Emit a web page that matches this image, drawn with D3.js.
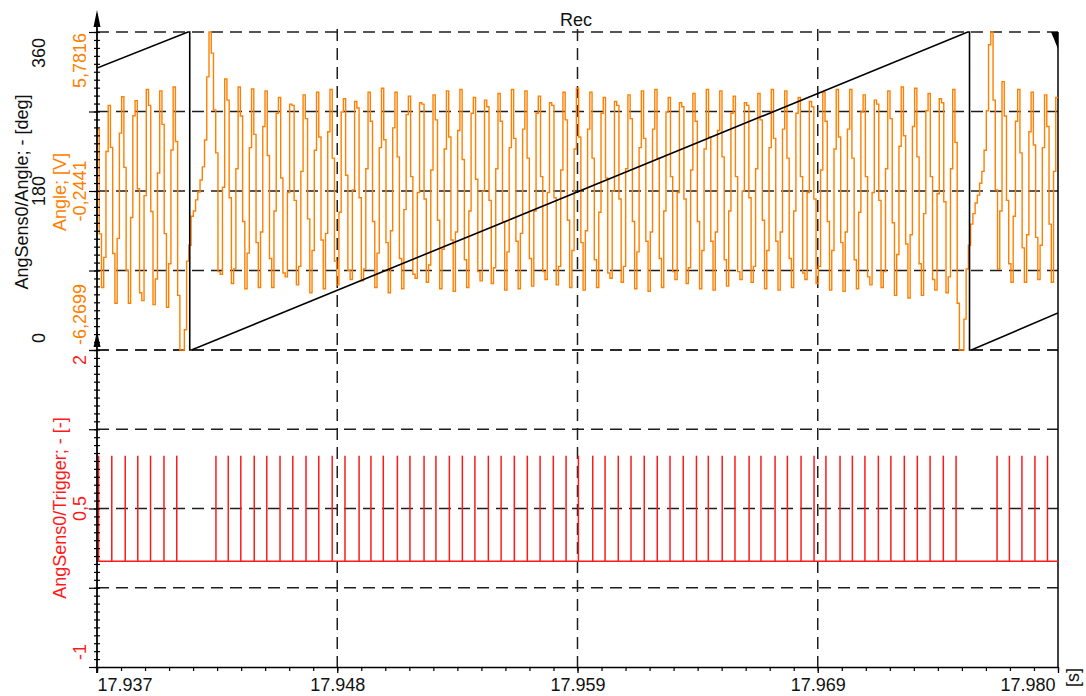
<!DOCTYPE html>
<html>
<head>
<meta charset="utf-8">
<script src="https://cdn.jsdelivr.net/npm/d3@7"></script>
<style>
  html, body { margin: 0; padding: 0; background: #fff; }
  svg { display: block; font-family: "Liberation Sans", Arial, sans-serif; }
</style>
</head>
<body>
<svg id="chart" width="1086" height="696"></svg>
<script>
// ---- time window (s) and its axis labels ----
const timeDomain = [17.9372, 17.9801];
const timeTickLabels = ["17.937", "17.948", "17.959", "17.969", "17.980"];

// ---- AngSens0/Angle: crank angle sawtooth, breakpoints ----
const angleTimes  = [17.93720, 17.94126, 17.94134, 17.94134, 17.94142, 17.97607, 17.97615, 17.97615, 17.97623, 17.98010];
const angleValues = [319.2, 360, 360, 0, 0, 360, 360, 0, 0, 41.9];

// ---- Angle [V]: sensor voltage, sampled every 0.1 ms ----
const sampleStart = 17.9372;
const sampleStep = 0.0001;
const sensorVolts = [
  // before the tooth gap
  2.09, -1.87, -3.9, -2.76, 1.25, 3.0, 1.41, -2.61, -4.5, -2.04,
  1.95, 3.33, 0.65, -3.25, -4.5, -1.25, 2.61, 3.18, -0.16, -4.1,
  -4.4, -0.42, 3.6, 3.0, -1.02, -4.55, -3.58, 0.44, 3.55, 2.28,
  -1.86, -4.65, -3.0, 1.31, 3.7, 1.63,
  // tooth gap
  -4.2, -6.27, -6.27, -5.5, -2.9, -2.3, -1.2, -1.0, -0.58, -0.28,
  0.17, 0.67, 1.69, 4.08, 5.78, 4.98, 2.83,
  // full revolution of regular teeth
  1.2, -3.3, -3.4, -0.1, 4.0, 3.2, -0.5, -3.75, -3.2, 0.6, 3.7, 2.6, -1.4, -3.95, -2.6, 1.4, 3.62, 1.9, -2.2, -3.9, -1.8, 2.2, 3.55, 1.1, -2.8, -3.9, -1.0, 2.7, 3.3,
  0.25, -3.35, -3.5, -0.3, 3.05, 3.0, -0.6, -3.8, -3.1, 0.5, 3.4, 2.5, -1.3, -4.1, -2.5, 1.3, 3.5, 1.8, -2.1, -3.95, -1.85, 2.0, 3.6, 1.0, -2.9, -3.8, -1.05, 2.75, 3.25,
  0.35, -3.25, -3.6, -0.2, 3.15, 2.9, -0.5, -3.65, -3.2, 0.6, 3.5, 2.4, -1.4, -3.9, -2.6, 1.4, 3.65, 1.7, -2.2, -4.1, -1.75, 2.15, 3.5, 1.05, -2.8, -3.95, -0.95, 2.65, 3.35,
  0.3, -3.4, -3.55, -0.3, 3.1, 3.05, -0.55, -3.7, -3.05, 0.55, 3.4, 2.45, -1.35, -3.95, -2.45, 1.35, 3.55, 1.8, -2.1, -4.05, -1.8, 2.05, 3.6, 0.95, -2.85, -3.9, -1.0, 2.7, 3.3,
  0.2, -3.3, -3.65, -0.25, 3.2, 2.95, -0.6, -3.75, -3.15, 0.6, 3.45, 2.4, -1.4, -4.0, -2.55, 1.4, 3.6, 1.75, -2.15, -3.95, -1.85, 2.1, 3.55, 1.0, -2.8, -3.85, -1.0, 2.7, 3.35,
  0.3, -3.3, -3.6, -0.3, 3.1, 3.0, -0.5, -3.8, -3.1, 0.55, 3.5, 2.45, -1.35, -3.9, -2.5, 1.35, 3.65, 1.8, -2.2, -4.0, -1.75, 2.1, 3.5, 1.0, -2.85, -3.9, -1.05, 2.7, 3.3,
  0.25, -3.35, -3.55, -0.25, 3.15, 3.0, -0.55, -3.7, -3.1, 0.6, 3.4, 2.5, -1.4, -3.95, -2.55, 1.4, 3.55, 1.75, -2.15, -4.05, -1.8, 2.1, 3.6, 1.0, -2.8, -3.9, -1.0, 2.75, 3.3,
  0.3, -3.3, -3.6, -0.3, 3.1, 2.95, -0.55, -3.75, -3.15, 0.55, 3.45, 2.4, -1.4, -3.95, -2.5, 1.35, 3.6, 1.8, -2.15, -4.0, -1.8, 2.05, 3.55, 1.05, -2.85, -3.85, -1.0, 2.7, 3.35,
  0.3, -3.3, -3.6, -0.25, 3.1, 3.0, -0.5, -3.7, -3.1, 0.6, 3.45, 2.45, -1.35, -3.95, -2.5, 1.4, 3.6, 1.75, -2.15, -4.0, -1.8, 2.1, 3.55, 1.0, -2.8, -3.9, -1.0, 2.7, 3.3,
  0.3, -3.35, -3.6, -0.3, 3.15, 2.95, -0.55, -3.75, -3.1, 0.55, 3.5, 2.4, -1.4, -4.0, -2.5, 1.35, 3.6, 1.8, -2.2, -4.05, -1.8, 2.1, 3.6, 1.0, -2.85, -3.95, -1.05, 2.75, 3.4,
  0.3, -3.5, -3.8, -0.3, 3.2, 3.05, -0.6, -3.9, -3.3, 0.6, 3.55, 2.5, -1.45, -4.2, -2.65, 1.45, 3.7, 1.85, -2.25, -4.3, -1.9, 2.2, 3.65, 1.05, -3.0, -4.2, -1.1, 2.8, 3.45,
  0.3, -3.6, -4.0, -0.35, 3.25, 3.1, -0.65, -4.1, -3.5, 0.6, 3.6, 1.6,
  // tooth gap
  -4.5, -6.27, -6.27, -5.1, -3.2, -2.3, -1.5, -1.1, -0.7, -0.4,
  0.05, 0.5, 1.3, 2.8, 5.3, 5.78, 3.2, -0.2,
  // after the tooth gap
  -3.2, -1.0, 3.9, 2.6, -0.6, -3.0, -3.7, -1.2, 2.4, 3.6,
  1.2, -2.4, -3.7, -1.9, 2.0, 3.5, 1.5, -2.0, -3.6, -2.3,
  1.4, 3.4, 2.2, -1.5, -3.7, 0.5, 3.3, 3.3
];

// ---- AngSens0/Trigger: one pulse per tooth (60-2 wheel) ----
const triggerTimes = [
  17.93727, 17.93786, 17.93846, 17.93902, 17.93959, 17.94019, 17.94076,
  17.94251, 17.94306, 17.94362, 17.94422, 17.94478, 17.94537, 17.94594, 17.94653, 17.94710, 17.94770,
  17.94827, 17.94890, 17.94943, 17.94998, 17.95061, 17.95117, 17.95180, 17.95233, 17.95293, 17.95351,
  17.95407, 17.95467, 17.95524, 17.95583, 17.95641, 17.95698, 17.95757, 17.95814, 17.95869, 17.95933,
  17.95988, 17.96047, 17.96104, 17.96163, 17.96221, 17.96278, 17.96337, 17.96396, 17.96449, 17.96511,
  17.96568, 17.96631, 17.96684, 17.96747, 17.96802, 17.96863, 17.96921, 17.96974, 17.97037, 17.97092,
  17.97148, 17.97208, 17.97264, 17.97324, 17.97382, 17.97439, 17.97498, 17.97555,
  17.97738, 17.97793, 17.97849, 17.97907, 17.97963
];
const triggerLow = 0;
const triggerHigh = 1;

// ---- axis ranges and tick labels ----
const angleDomain = [0, 360];
const angleTickValues = [0, 180, 360];
const angleTickLabels = ["0", "180", "360"];
const voltDomain = [-6.2699, 5.7816];
const voltTickValues = [-6.2699, -0.2441, 5.7816];
const voltTickLabels = ["-6,2699", "-0,2441", "5,7816"];
const trigDomain = [-1, 2];
const trigTickValues = [-1, 0.5, 2];
const trigTickLabels = ["-1", "0,5", "2"];

// ---- layout ----
const L = 97, R = 1058, T = 32, MID = 350, B = 667;
const ORANGE = "#ff8000", RED = "#ff1a1a", INK = "#000", GRID = "#1e1e1e";
const DASH = "12,7";

const svg = d3.select("#chart");

const x = d3.scaleLinear().domain(timeDomain).range([L, R]);
const yAngle = d3.scaleLinear().domain(angleDomain).range([MID, T]);
const yVolt = d3.scaleLinear().domain(voltDomain).range([MID, T]);
const yTrig = d3.scaleLinear().domain(trigDomain).range([B, MID]);

const span = timeDomain[1] - timeDomain[0];
const majorT = d3.range(5).map(i => timeDomain[0] + span * i / 4);
const minorT = d3.range(41).map(i => timeDomain[0] + span * i / 40);
const angleGrid = d3.range(5).map(i => angleDomain[0] + (angleDomain[1] - angleDomain[0]) * i / 4);
const angleMinor = d3.range(41).map(i => angleDomain[0] + (angleDomain[1] - angleDomain[0]) * i / 40);
const trigGrid = d3.range(1, 5).map(i => trigDomain[0] + (trigDomain[1] - trigDomain[0]) * i / 4);
const trigMinor = d3.range(41).map(i => trigDomain[0] + (trigDomain[1] - trigDomain[0]) * i / 40);

const defs = svg.append("defs");
defs.append("clipPath").attr("id", "clipTop")
  .append("rect").attr("x", L).attr("y", T - 2).attr("width", R - L).attr("height", MID - T + 4);
defs.append("clipPath").attr("id", "clipBottom")
  .append("rect").attr("x", L).attr("y", MID).attr("width", R - L).attr("height", B - MID);

// ---- grid ----
const grid = svg.append("g").attr("stroke", GRID).attr("stroke-width", 1.5).attr("stroke-dasharray", DASH).attr("fill", "none");
grid.selectAll("line.ht").data(angleGrid).join("line").attr("class", "ht")
  .attr("x1", L).attr("x2", R).attr("y1", d => yAngle(d)).attr("y2", d => yAngle(d));
grid.selectAll("line.hb").data(trigGrid).join("line").attr("class", "hb")
  .attr("x1", L).attr("x2", R).attr("y1", d => yTrig(d)).attr("y2", d => yTrig(d));
grid.selectAll("line.v").data(majorT.slice(1, 4)).join("line").attr("class", "v")
  .attr("x1", d => x(d)).attr("x2", d => x(d)).attr("y1", T - 3).attr("y2", B);

// right frame
svg.append("line").attr("x1", R).attr("x2", R).attr("y1", T).attr("y2", B + 1)
  .attr("stroke", INK).attr("stroke-width", 1.5);

// ---- traces ----
const voltLine = d3.line()
  .x((d, i) => x(sampleStart + i * sampleStep))
  .y(d => yVolt(d))
  .curve(d3.curveStepAfter);
svg.append("path").datum(sensorVolts)
  .attr("clip-path", "url(#clipTop)")
  .attr("d", voltLine)
  .attr("fill", "none").attr("stroke", ORANGE).attr("stroke-width", 1.4);

const anglePoints = angleTimes.map((t, i) => [t, angleValues[i]]);
svg.append("path").datum(anglePoints)
  .attr("clip-path", "url(#clipTop)")
  .attr("d", d3.line().x(d => x(d[0])).y(d => yAngle(d[1])))
  .attr("fill", "none").attr("stroke", INK).attr("stroke-width", 1.6);

const trig = svg.append("g").attr("clip-path", "url(#clipBottom)").attr("stroke", RED).attr("stroke-width", 1.5);
trig.append("line")
  .attr("x1", x(timeDomain[0])).attr("x2", x(timeDomain[1]))
  .attr("y1", yTrig(triggerLow)).attr("y2", yTrig(triggerLow));
trig.selectAll("line.p").data(triggerTimes).join("line").attr("class", "p")
  .attr("x1", d => x(d)).attr("x2", d => x(d))
  .attr("y1", yTrig(triggerLow)).attr("y2", yTrig(triggerHigh));

// ---- x axis ----
const xMinor = svg.append("g").attr("transform", `translate(0,${B})`)
  .call(d3.axisBottom(x).tickValues(minorT).tickSize(4).tickSizeOuter(0).tickFormat(""));
xMinor.select(".domain").remove();
xMinor.selectAll(".tick line").attr("stroke", INK).attr("stroke-width", 1.2);

const xAxis = svg.append("g").attr("transform", `translate(0,${B})`)
  .call(d3.axisBottom(x).tickValues(majorT).tickSize(6).tickSizeOuter(0).tickPadding(5)
    .tickFormat((d, i) => timeTickLabels[i]));
xAxis.select(".domain").attr("stroke", INK).attr("stroke-width", 1.6);
xAxis.selectAll(".tick line").attr("stroke", INK).attr("stroke-width", 1.3);
xAxis.selectAll(".tick text")
  .attr("font-size", 18).attr("font-family", "Liberation Sans, Arial, sans-serif").attr("fill", "#111")
  .attr("text-anchor", (d, i) => i === 0 ? "start" : (i === 4 ? "end" : "middle"))
  .attr("dx", (d, i) => i === 4 ? -3 : 0);

svg.append("text")
  .attr("transform", `translate(1079,668) rotate(-90)`)
  .attr("text-anchor", "end").attr("font-size", 18).attr("fill", "#111")
  .text("[s]");

// ---- y axes: tick marks ----
function yTicks(scale, major, minor) {
  const g = svg.append("g").attr("transform", `translate(${L},0)`);
  g.append("g").call(d3.axisLeft(scale).tickValues(minor).tickSize(3).tickSizeOuter(0).tickFormat(""))
    .call(s => s.select(".domain").remove());
  g.append("g").call(d3.axisLeft(scale).tickValues(minor).tickSize(-3).tickSizeOuter(0).tickFormat(""))
    .call(s => s.select(".domain").remove());
  g.append("g").call(d3.axisLeft(scale).tickValues(major).tickSize(8).tickSizeOuter(0).tickFormat(""))
    .call(s => s.select(".domain").remove());
  g.selectAll(".tick line").attr("stroke", INK).attr("stroke-width", 1.2);
}
yTicks(yAngle, angleGrid, angleMinor);
yTicks(yTrig, [-1].concat(trigGrid), trigMinor);

// axis lines with arrow heads
svg.append("line").attr("x1", L).attr("x2", L).attr("y1", 14).attr("y2", B + 6)
  .attr("stroke", INK).attr("stroke-width", 1.8);
[[10, 27], [331, 347]].forEach(([tip, base]) => {
  svg.append("path")
    .attr("d", `M${L},${tip} L${L - 3.5},${base} L${L + 3.5},${base} Z`)
    .attr("fill", INK);
});

// corner marker
svg.append("path")
  .attr("d", `M${R - 7},${T} L${R},${T} L${R},${T + 17} L${R - 2},${T + 12} L${R - 4},${T + 7} Z`)
  .attr("fill", INK);

// ---- y tick labels (rotated) ----
function yLabels(scale, values, labels, baseX, color, offsets) {
  svg.append("g").selectAll("text").data(values).join("text")
    .attr("transform", (d, i) => `translate(${baseX},${scale(d) + offsets[i]}) rotate(-90)`)
    .attr("text-anchor", (d, i) => i === 0 ? "start" : (i === values.length - 1 ? "end" : "middle"))
    .attr("font-size", 18).attr("fill", color)
    .text((d, i) => labels[i]);
}
yLabels(yAngle, angleTickValues, angleTickLabels, 45, "#111", [-7, 0, 6]);
yLabels(yVolt, voltTickValues, voltTickLabels, 86, ORANGE, [-5, 0, 1]);
yLabels(yTrig, trigTickValues, trigTickLabels, 86, RED, [-7, 0, 5]);

// ---- axis titles ----
function yTitle(text, bx, cy, color) {
  svg.append("text")
    .attr("transform", `translate(${bx},${cy}) rotate(-90)`)
    .attr("text-anchor", "middle").attr("font-size", 18).attr("fill", color)
    .text(text);
}
yTitle("AngSens0/Angle; - [deg]", 28, 192, "#111");
yTitle("Angle; [V]", 66, 192, ORANGE);
yTitle("AngSens0/Trigger; - [-]", 66, 508, RED);

svg.append("text")
  .attr("x", 576).attr("y", 26)
  .attr("text-anchor", "middle").attr("font-size", 18).attr("fill", "#111")
  .text("Rec");
</script>
</body>
</html>
